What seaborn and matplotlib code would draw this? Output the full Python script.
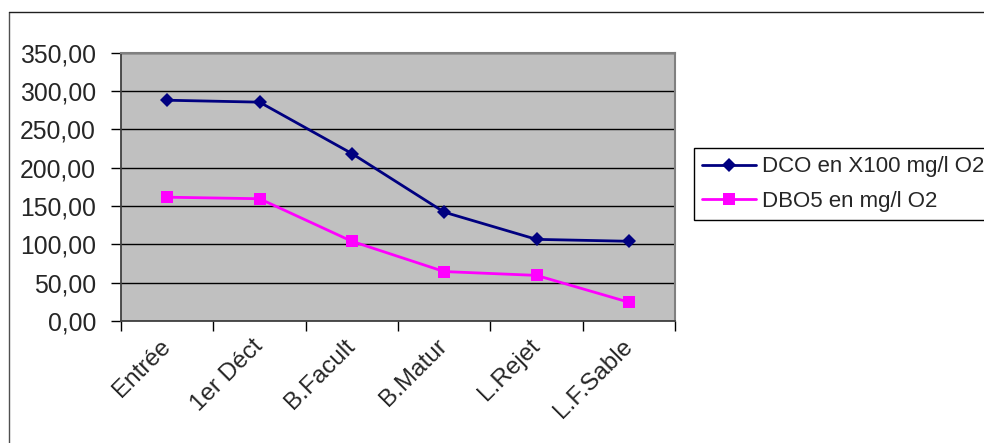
import numpy as np
import pandas as pd
import matplotlib
matplotlib.use('Agg')
import matplotlib.pyplot as plt
import seaborn as sns
from matplotlib.lines import Line2D
from matplotlib.ticker import FixedLocator, FuncFormatter, MultipleLocator

# Data
stations = ['Entrée', '1er Déct', 'B.Facult', 'B.Matur', 'L.Rejet', 'L.F.Sable']
dco = [288, 285.5, 218.5, 142, 106.5, 104]
dbo5 = [161.5, 159.5, 104, 64.5, 59.5, 24.5]
series_names = ['DCO en X100 mg/l O2', 'DBO5 en mg/l O2']

df = pd.DataFrame({
    'Station': stations * 2,
    'Valeur': dco + dbo5,
    'Serie': [series_names[0]] * len(dco) + [series_names[1]] * len(dbo5),
})

sns.set_style('white')
plt.rcParams['font.family'] = ['Liberation Sans', 'DejaVu Sans']

colors = {series_names[0]: '#000080', series_names[1]: '#FF00FF'}
marks = {series_names[0]: 'D', series_names[1]: 's'}
msize = {series_names[0]: 7, series_names[1]: 8}

fig = plt.figure(figsize=(9.84, 4.43), dpi=100)
ax = fig.add_axes([121 / 984, 1 - 321 / 443, (675 - 121) / 984, (321 - 52.7) / 443])
ax.set_facecolor('#C0C0C0')

for name in series_names:
    sub = df[df['Serie'] == name]
    sns.lineplot(data=sub, x='Station', y='Valeur', color=colors[name], marker=marks[name],
                 markersize=msize[name], markeredgewidth=0, linewidth=2, sort=False,
                 ax=ax, zorder=3)

ax.set_xlim(-0.5, len(stations) - 0.5)
ax.set_ylim(0, 350)
ax.yaxis.set_major_locator(MultipleLocator(50))
ax.yaxis.set_major_formatter(FuncFormatter(lambda v, p: f'{v:.2f}'.replace('.', ',')))
ax.grid(axis='y', color='black', linewidth=1, zorder=1)
ax.set_axisbelow(True)
ax.set_xlabel('')
ax.set_ylabel('')

# tick marks between categories, labels at category centres
ax.xaxis.set_minor_locator(FixedLocator(np.arange(-0.5, len(stations), 1.0)))
ax.tick_params(axis='x', which='major', length=0, pad=16, labelsize=17.5)
ax.tick_params(axis='x', which='minor', length=7, width=1, color='black', direction='out', bottom=True)
ax.tick_params(axis='y', which='major', length=7, width=1, color='black', direction='out', left=True,
               pad=11, labelsize=17.8)
for lab in ax.get_xticklabels():
    lab.set_rotation(45)
    lab.set_ha('right')
    lab.set_va('center')
    lab.set_rotation_mode('anchor')

for side in ['top', 'right']:
    ax.spines[side].set_color('#808080')
    ax.spines[side].set_linewidth(1.5)
for side in ['left', 'bottom']:
    ax.spines[side].set_color('#404040')
    ax.spines[side].set_linewidth(1.3)

handles = [Line2D([], [], color=colors[n], marker=marks[n], markersize=msize[n],
                  markeredgewidth=0, linewidth=2) for n in series_names]
fig.legend(handles, series_names, loc='upper left', bbox_to_anchor=(694 / 984, 1 - 148 / 443),
           borderaxespad=0, frameon=True, fancybox=False, edgecolor='black', framealpha=1,
           fontsize=16, handlelength=2.4, handletextpad=0.3, borderpad=0.38, labelspacing=0.6)

# outer chart border (only left and top visible)
fig.add_artist(Line2D([8.5 / 984, 8.5 / 984], [0, 1 - 12 / 443], color='#505050', linewidth=1))
fig.add_artist(Line2D([8.5 / 984, 1], [1 - 12 / 443, 1 - 12 / 443], color='#202020', linewidth=1))

fig.savefig('out.png', dpi=100)
